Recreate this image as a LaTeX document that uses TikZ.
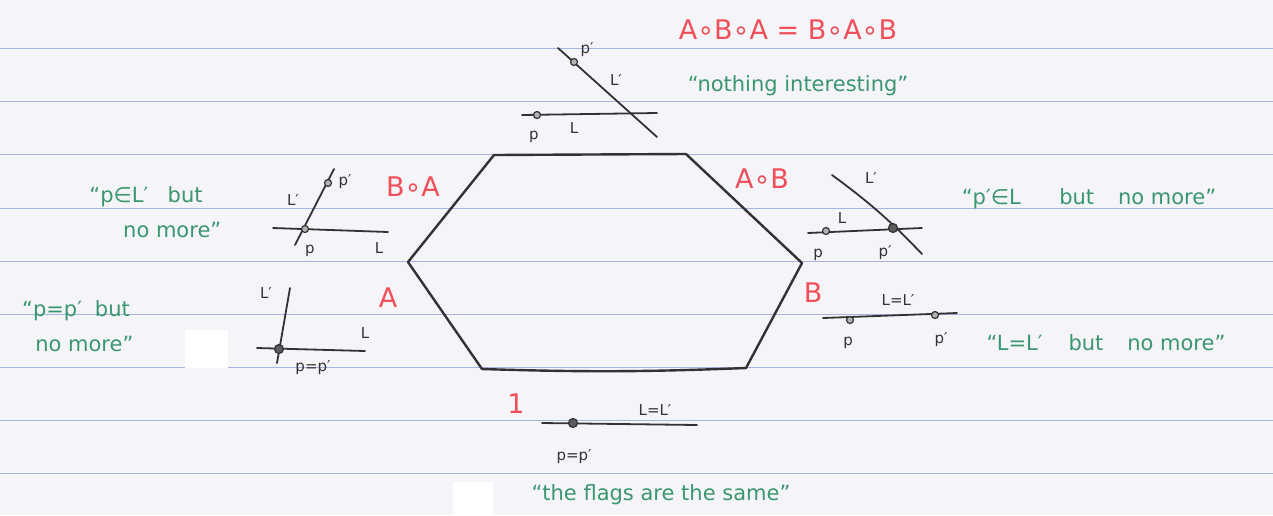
\documentclass[tikz,border=0pt]{standalone}
\usepackage{fontspec}
\setmainfont{DejaVu Sans}
\definecolor{paper}{RGB}{245,245,249}
\definecolor{rule}{RGB}{168,180,226}
\definecolor{redink}{RGB}{240,78,88}
\definecolor{greenink}{RGB}{58,150,110}
\definecolor{pencil}{RGB}{50,50,52}
\tikzset{
  rulestyle/.style={rule, line width=1pt},
  edge/.style={pencil, line width=2.4pt, line cap=round, line join=round},
  flagline/.style={pencil, line width=1.8pt, line cap=round},
  pt/.style={circle, draw=pencil, fill=gray!60, line width=1.2pt, inner sep=0pt, minimum size=7pt},
  bigpt/.style={circle, draw=pencil, fill=pencil!80, line width=1.2pt, inner sep=0pt, minimum size=9pt},
  lbl/.style={pencil, font=\fontsize{15}{15}\selectfont, inner sep=0pt},
  redlbl/.style={redink, font=\fontsize{27}{27}\selectfont, inner sep=0pt},
  grn/.style={greenink, font=\fontsize{21}{25}\selectfont, inner sep=0pt, align=center},
}
\begin{document}
\begin{tikzpicture}[x=1pt,y=-1pt]
\useasboundingbox (0,0) rectangle (1273,515);
\fill[paper] (0,0) rectangle (1273,515);
\foreach \yy in {48,101,154,208,261,314,367,420,473}
  \draw[rulestyle] (0,\yy) -- (1273,\yy);
\fill[white] (185,330) rectangle (228,368);
\fill[white] (453,482) rectangle (493,515);

% hexagon
\coordinate (h1) at (494,155);
\coordinate (h2) at (686,154);
\coordinate (h3) at (802,263);
\coordinate (h4) at (746,368);
\coordinate (h5) at (482,369);
\coordinate (h6) at (408,262);
\draw[edge] (h1) -- (h2) -- (h3) -- (h4) to[bend left=2] (h5) -- (h6) -- cycle;

% top: A o B o A
\coordinate (t1) at (522,115); \coordinate (t2) at (657,113);
\coordinate (t3) at (558,48);  \coordinate (t4) at (657,137);
\draw[flagline] (t1) -- (t2);
\draw[flagline] (t3) -- (t4);
\node[pt] (tp) at (537,115) {};
\node[pt] (tpp) at (574,62) {};
\node[lbl] (tpl) at (534,137) {p};
\node[lbl] (tLl) at (574,128) {L};
\node[lbl] (tppl) at (587,50) {p′};
\node[lbl] (tLpl) at (616,80) {L′};
\node[redlbl] (braid) at (788,30) {A∘B∘A = B∘A∘B};
\node[grn] (g1) at (798,86) {“nothing interesting”};

% left top: B o A
\coordinate (a1) at (273,228); \coordinate (a2) at (388,232);
\coordinate (a3) at (295,245); \coordinate (a4) at (334,169);
\draw[flagline] (a1) -- (a2);
\draw[flagline] (a3) -- (a4);
\node[pt] (ap) at (305,229) {};
\node[pt] (app) at (328,183) {};
\node[lbl] (apl) at (310,251) {p};
\node[lbl] (aLl) at (379,248) {L};
\node[lbl] (appl) at (345,182) {p′};
\node[lbl] (aLpl) at (293,200) {L′};
\node[redlbl] (BA) at (413,187) {B∘A};
\node[grn] (g2) at (146,212) {“p∈L′ \hspace{0.6em}but\\[10pt]\hspace*{2.5em}no more”};

% left bottom: A
\coordinate (b1) at (257,348); \coordinate (b2) at (365,351);
\coordinate (b3) at (277,363); \coordinate (b4) at (290,288);
\draw[flagline] (b1) -- (b2);
\draw[flagline] (b3) -- (b4);
\node[bigpt] (bp) at (279,349) {};
\node[lbl] (bLpl) at (266,293) {L′};
\node[lbl] (bLl) at (365,333) {L};
\node[lbl] (bppl) at (313,368) {p=p′};
\node[redlbl] (Aa) at (388,298) {A};
\node[grn] (g3) at (76,326) {“p=p′ \hspace{0.3em}but\\[10pt]\hspace*{0.8em}no more”};

% right top: A o B
\coordinate (c1) at (808,233); \coordinate (c2) at (922,228);
\coordinate (c3) at (832,175); \coordinate (c4) at (922,254);
\draw[flagline] (c1) -- (c2);
\draw[flagline] (c3) to[bend left=5] (c4);
\node[pt] (cp) at (826,231) {};
\node[bigpt] (cpp) at (893,228) {};
\node[lbl] (cLl) at (842,218) {L};
\node[lbl] (cpl) at (818,255) {p};
\node[lbl] (cppl) at (885,253) {p′};
\node[lbl] (cLpl) at (871,178) {L′};
\node[redlbl] (AB) at (762,179) {A∘B};
\node[grn] (g4) at (1089,199) {“p′∈L \hspace{1.2em} but \hspace{0.5em} no more”};

% right bottom: B
\coordinate (d1) at (823,318); \coordinate (d2) at (957,313);
\draw[flagline] (d1) -- (d2);
\node[pt] (dp) at (850,320) {};
\node[pt] (dpp) at (935,315) {};
\node[lbl] (dLl) at (898,300) {L=L′};
\node[lbl] (dpl) at (848,343) {p};
\node[lbl] (dppl) at (941,340) {p′};
\node[redlbl] (Bb) at (813,293) {B};
\node[grn] (g5) at (1106,343) {“L=L′ \hspace{0.6em} but \hspace{0.5em} no more”};

% bottom: 1
\coordinate (e1) at (542,423); \coordinate (e2) at (697,425);
\draw[flagline] (e1) -- (e2);
\node[bigpt] (ep) at (573,423) {};
\node[lbl] (eLl) at (655,410) {L=L′};
\node[lbl] (epl) at (574,457) {p=p′};
\node[redlbl] (one) at (516,404) {1};
\node[grn] (g6) at (661,495) {“the flags are the same”};
\end{tikzpicture}
\end{document}
